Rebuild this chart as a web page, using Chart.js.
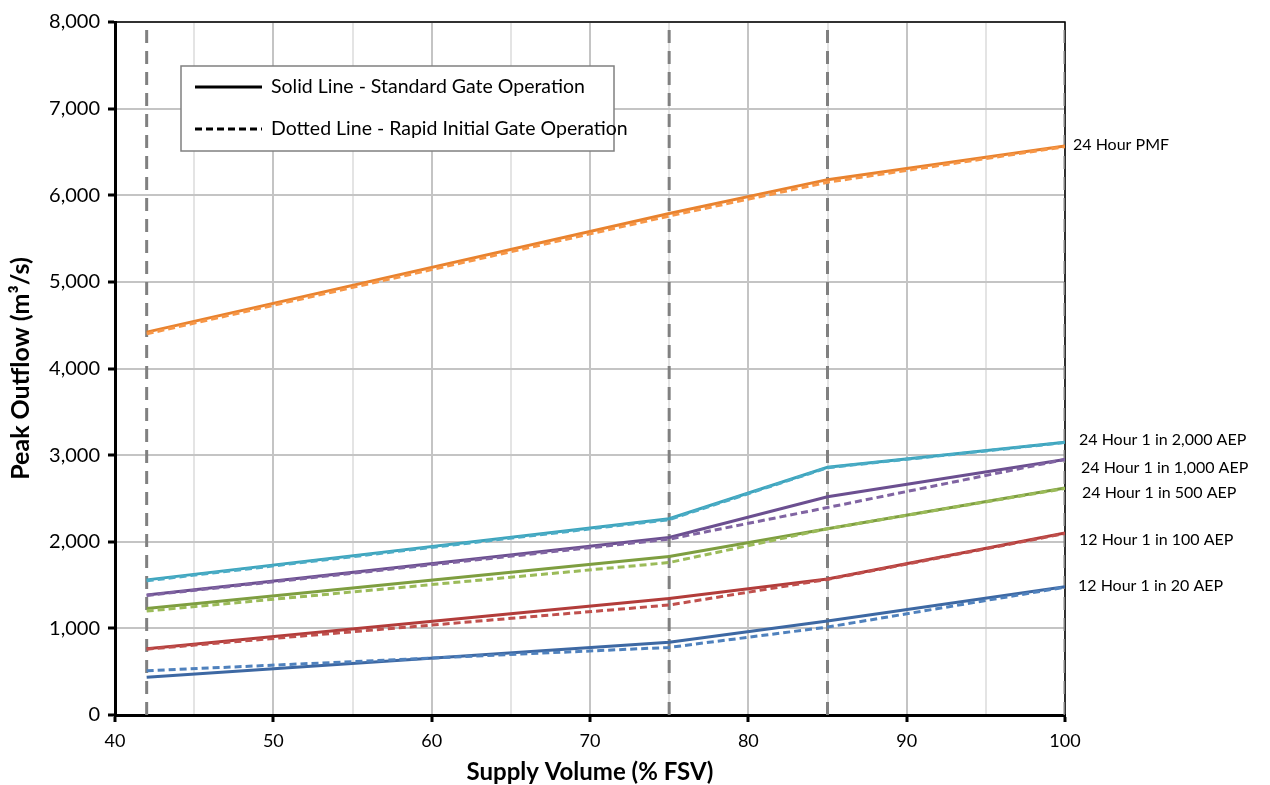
<!DOCTYPE html>
<html>
<head>
<meta charset="utf-8">
<script src="https://cdn.jsdelivr.net/npm/chart.js@4.4.1/dist/chart.umd.min.js"></script>
<style>
  html, body { margin: 0; padding: 0; background: #fff; }
  #wrap { width: 1270px; height: 785px; }
</style>
</head>
<body>
<div id="wrap"><canvas id="chart" width="1270" height="785"></canvas></div>
<script>
// % FSV where each run was made
const supplyVolume = [42, 75, 85, 100];

// peak outflow (m3/s), standard gate operation vs rapid initial gate operation
const pmfStd = [4420, 5790, 6180, 6570];
const pmfRapid = [4400, 5760, 6150, 6560];
const aep2000Std = [1560, 2265, 2860, 3150];
const aep2000Rapid = [1550, 2255, 2855, 3145];
const aep1000Std = [1385, 2050, 2520, 2950];
const aep1000Rapid = [1380, 2030, 2395, 2950];
const aep500Std = [1230, 1830, 2150, 2620];
const aep500Rapid = [1200, 1760, 2150, 2615];
const aep100Std = [765, 1345, 1570, 2100];
const aep100Rapid = [760, 1270, 1565, 2095];
const aep20Std = [435, 840, 1085, 1480];
const aep20Rapid = [510, 780, 1015, 1475];

const seriesNames = ['24 Hour PMF', '24 Hour 1 in 2,000 AEP', '24 Hour 1 in 1,000 AEP',
  '24 Hour 1 in 500 AEP', '12 Hour 1 in 100 AEP', '12 Hour 1 in 20 AEP'];
// where the end label sits on the y axis (m3/s)
const labelValue = [6580, 3175, 2850, 2565, 2020, 1490];

const yTicks = [0, 1000, 2000, 3000, 4000, 5000, 6000, 7000, 8000];

const solidColors = ['#E8822E', '#3CA4BC', '#6B4F90', '#7E9E40', '#B23C3A', '#3D68A3'];
const dashColors = ['#F79646', '#4BACC6', '#8064A2', '#9BBB59', '#C0504D', '#4F81BD'];
const labelDx = [8, 14, 16, 17, 14, 13];

const stdSets = [pmfStd, aep2000Std, aep1000Std, aep500Std, aep100Std, aep20Std];
const rapidSets = [pmfRapid, aep2000Rapid, aep1000Rapid, aep500Rapid, aep100Rapid, aep20Rapid];

const toPoints = arr => arr.map((v, i) => ({ x: supplyVolume[i], y: v }));

const datasets = [];
stdSets.forEach((s, i) => {
  datasets.push({
    label: seriesNames[i] + ' (standard)',
    data: toPoints(s),
    borderColor: solidColors[i],
    borderWidth: 3,
    pointRadius: 0,
    fill: false,
    order: 2
  });
  datasets.push({
    label: seriesNames[i] + ' (rapid)',
    data: toPoints(rapidSets[i]),
    borderColor: dashColors[i],
    borderWidth: 3,
    borderDash: [7, 4],
    pointRadius: 0,
    fill: false,
    order: 1
  });
});

// grey dashed verticals at each run volume
supplyVolume.forEach(v => {
  datasets.push({
    label: 'marker ' + v,
    data: [{ x: v, y: yTicks[0] }, { x: v, y: yTicks[yTicks.length - 1] }],
    borderColor: '#808080',
    borderWidth: 3,
    borderDash: [13, 8],
    pointRadius: 0,
    fill: false,
    order: 10
  });
});

const frame = {
  id: 'frame',
  beforeDatasetsDraw(chart) {
    const { ctx, chartArea: a } = chart;
    ctx.save();
    ctx.strokeStyle = '#000';
    ctx.lineWidth = 1.5;
    ctx.beginPath();
    ctx.moveTo(a.left, a.top);
    ctx.lineTo(a.right, a.top);
    ctx.lineTo(a.right, a.bottom);
    ctx.stroke();
    ctx.restore();
  },
  afterDatasetsDraw(chart) {
    const { ctx } = chart;
    const x = chart.scales.x, y = chart.scales.y;
    ctx.save();
    // end labels
    ctx.font = '16px Lato';
    ctx.fillStyle = '#000';
    ctx.textBaseline = 'middle';
    ctx.textAlign = 'left';
    seriesNames.forEach((n, i) => {
      ctx.fillText(n, x.getPixelForValue(supplyVolume[supplyVolume.length - 1]) + labelDx[i],
        y.getPixelForValue(labelValue[i]));
    });
    // legend box
    const bx = 181, by = 66, bw = 433, bh = 85;
    ctx.fillStyle = '#fff';
    ctx.fillRect(bx, by, bw, bh);
    ctx.strokeStyle = '#808080';
    ctx.lineWidth = 1.5;
    ctx.strokeRect(bx, by, bw, bh);
    ctx.strokeStyle = '#000';
    ctx.lineWidth = 3;
    ctx.beginPath();
    ctx.moveTo(195, 87); ctx.lineTo(262, 87);
    ctx.stroke();
    ctx.setLineDash([7, 4]);
    ctx.beginPath();
    ctx.moveTo(195, 129); ctx.lineTo(262, 129);
    ctx.stroke();
    ctx.setLineDash([]);
    ctx.fillStyle = '#000';
    ctx.font = '19.5px Lato';
    ctx.fillText('Solid Line - Standard Gate Operation', 271, 87);
    ctx.fillText('Dotted Line - Rapid Initial Gate Operation', 271, 129);
    ctx.restore();
  }
};

new Chart(document.getElementById('chart'), {
  type: 'line',
  data: { datasets },
  options: {
    responsive: false,
    animation: false,
    layout: { padding: { left: 0, top: 22, right: 205, bottom: 0 } },
    plugins: { legend: { display: false }, tooltip: { enabled: false } },
    scales: {
      x: {
        type: 'linear',
        min: 40,
        max: 100,
        afterFit: s => { s.height = 70; },
        border: { color: '#000', width: 3 },
        grid: {
          color: c => (c.tick && c.tick.value % 10 === 0) ? '#c4c4c4' : '#e4e4e4',
          lineWidth: 2,
          tickColor: c => (c.tick && c.tick.value % 10 === 0) ? '#000' : 'rgba(0,0,0,0)',
          tickLength: 7,
          tickWidth: 3
        },
        ticks: {
          stepSize: 5,
          autoSkip: false,
          maxRotation: 0,
          padding: 8,
          color: '#000',
          font: { family: 'Lato', size: 18 },
          callback: v => (v % 10 === 0 ? String(v) : '')
        },
        title: {
          display: true,
          text: 'Supply Volume (% FSV)',
          color: '#000',
          font: { family: 'Lato', size: 24, weight: 'bold' },
          padding: { top: 0, bottom: -2 }
        }
      },
      y: {
        min: 0,
        max: 8000,
        afterFit: s => { s.width = 115; },
        afterBuildTicks: s => { s.ticks = yTicks.map(v => ({ value: v })); },
        border: { color: '#000', width: 3 },
        grid: {
          color: '#c4c4c4',
          lineWidth: 2,
          tickColor: '#000',
          tickLength: 7,
          tickWidth: 3
        },
        ticks: {
          padding: 8,
          color: '#000',
          font: { family: 'Lato', size: 20 },
          callback: v => v.toLocaleString('en-US')
        },
        title: {
          display: true,
          text: 'Peak Outflow (m³/s)',
          color: '#000',
          font: { family: 'Lato', size: 25, weight: 'bold' },
          padding: { top: 6, bottom: 0 }
        }
      }
    }
  },
  plugins: [frame]
});
</script>
</body>
</html>
